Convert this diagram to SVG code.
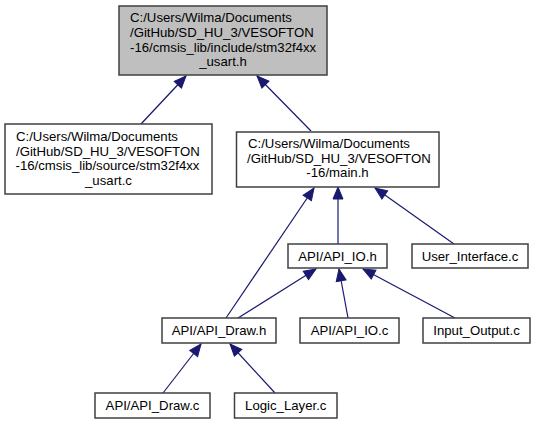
<svg xmlns="http://www.w3.org/2000/svg" width="535" height="424" viewBox="0 0 535 424">
<defs>
<style>
.node rect{fill:#ffffff;stroke:#404040;stroke-width:1.5}
.node.root rect{fill:#bfbfbf}
.node text{font-family:"Liberation Sans",Arial,sans-serif;font-size:13.2px;fill:#000000}
.c{text-anchor:middle}
.edge{stroke:#191970;stroke-width:1.2;fill:none;marker-end:url(#ah)}
</style>
<marker id="ah" markerUnits="userSpaceOnUse" markerWidth="14" markerHeight="12" refX="12" refY="5" orient="auto" viewBox="0 0 14 12" overflow="visible">
<path d="M0,0 L12,5 L0,10 z" fill="#191970" stroke="#191970" stroke-width="1"/>
</marker>
</defs>
<rect width="535" height="424" fill="#ffffff"/>
<g id="connectors">
<path class="edge" d="M141,124 L186,76"/>
<path class="edge" d="M311,131 L257,76"/>
<path class="edge" d="M338,244 L338,187"/>
<path class="edge" d="M226,318 L314,188"/>
<path class="edge" d="M454,244 L375,188"/>
<path class="edge" d="M238,318 L316,269"/>
<path class="edge" d="M348,318 L339,269"/>
<path class="edge" d="M455,318 L363,269"/>
<path class="edge" d="M163,393 L201,344"/>
<path class="edge" d="M275,393 L230,344"/>
</g>
<g id="node_usart_h" class="node root">
<rect x="119" y="6" width="208" height="69"/>
<text x="130" y="22">C:/Users/Wilma/Documents</text>
<text x="130" y="37">/GitHub/SD_HU_3/VESOFTON</text>
<text x="130" y="51.5">-16/cmsis_lib/include/stm32f4xx</text>
<text class="c" x="223" y="66">_usart.h</text>
</g>
<g id="node_usart_c" class="node">
<rect x="5" y="124" width="207" height="70"/>
<text x="16" y="141">C:/Users/Wilma/Documents</text>
<text x="16" y="155.5">/GitHub/SD_HU_3/VESOFTON</text>
<text x="15.5" y="170">-16/cmsis_lib/source/stm32f4xx</text>
<text class="c" x="108.5" y="185">_usart.c</text>
</g>
<g id="node_main_h" class="node">
<rect x="236.5" y="132" width="202.5" height="55"/>
<text x="248" y="148">C:/Users/Wilma/Documents</text>
<text x="247" y="162.5">/GitHub/SD_HU_3/VESOFTON</text>
<text class="c" x="337.5" y="177">-16/main.h</text>
</g>
<g id="node_api_io_h" class="node">
<rect x="288" y="244" width="99" height="24"/>
<text class="c" x="337.5" y="260.5">API/API_IO.h</text>
</g>
<g id="node_user_interface_c" class="node">
<rect x="412" y="244" width="116" height="24"/>
<text class="c" x="470" y="260.5">User_Interface.c</text>
</g>
<g id="node_api_draw_h" class="node">
<rect x="162" y="318" width="114" height="25"/>
<text class="c" x="219" y="335">API/API_Draw.h</text>
</g>
<g id="node_api_io_c" class="node">
<rect x="300" y="318" width="99" height="25"/>
<text class="c" x="349.5" y="335">API/API_IO.c</text>
</g>
<g id="node_input_output_c" class="node">
<rect x="423" y="318" width="107" height="25"/>
<text class="c" x="476.5" y="335">Input_Output.c</text>
</g>
<g id="node_api_draw_c" class="node">
<rect x="95" y="393" width="115" height="25"/>
<text class="c" x="152.5" y="410">API/API_Draw.c</text>
</g>
<g id="node_logic_layer_c" class="node">
<rect x="234.5" y="393" width="102.5" height="25"/>
<text class="c" x="285.75" y="410">Logic_Layer.c</text>
</g>
</svg>
